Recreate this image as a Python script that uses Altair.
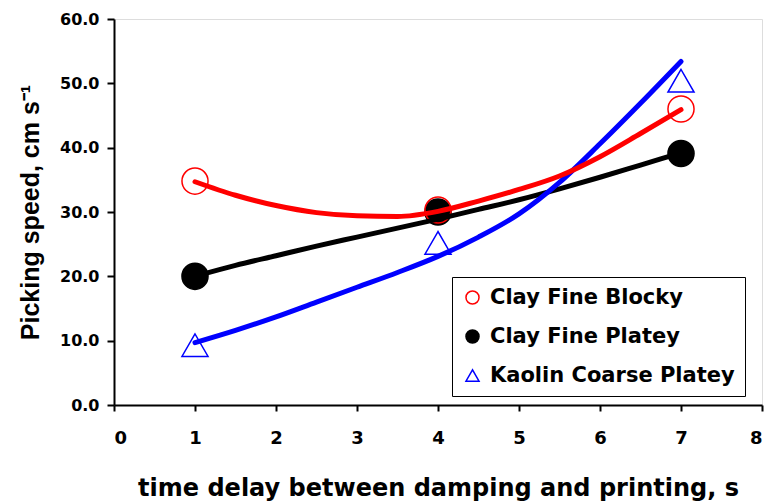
import altair as alt
import pandas as pd

# Series names (legend order)
series = ["Clay Fine Blocky", "Clay Fine Platey", "Kaolin Coarse Platey"]
colors = ["#ff0000", "#000000", "#0000ff"]
fills = ["transparent", "#000000", "transparent"]
shapes = ["circle", "circle", "triangle-up"]

# Measured picking speeds (cm/s) at each time delay (s)
delay_measured = [1, 4, 7]
blocky_measured = [34.8, 30.3, 46.0]
platey_measured = [20.0, 30.0, 39.1]
kaolin_measured = [9.3, 25.2, 50.4]

# Fitted trend curves
delay_fit = [1, 1.5, 2, 2.5, 3, 3.5, 4, 4.5, 5, 5.5, 6, 6.5, 7]
blocky_fit = [34.7, 32.6, 31.0, 29.9, 29.4, 29.3, 30.1, 31.7, 33.5, 35.6, 38.6, 42.2, 45.9]
platey_fit = [20.0, 21.7, 23.2, 24.7, 26.1, 27.5, 28.9, 30.4, 31.9, 33.6, 35.4, 37.3, 39.2]
kaolin_fit = [9.7, 11.6, 13.7, 16.0, 18.3, 20.6, 23.1, 26.1, 29.7, 34.6, 40.6, 46.9, 53.4]

# Points table: drawn in this row order (platey underneath blocky)
pts = pd.DataFrame({
    "delay": delay_measured * 3,
    "speed": platey_measured + blocky_measured + kaolin_measured,
    "series": [series[1]] * 3 + [series[0]] * 3 + [series[2]] * 3,
})

x_scale = alt.Scale(domain=[0, 8], nice=False, zero=False)
y_scale = alt.Scale(domain=[0, 60], nice=False)

x_axis = alt.Axis(
    title="time delay between damping and printing, s",
    values=list(range(0, 9)), format="d", grid=False,
    tickSize=6, tickWidth=2, tickColor="black",
    domainWidth=2, domainColor="black",
    labelFont="DejaVu Sans", labelFontSize=18, labelFontWeight="bold",
    labelColor="black", labelPadding=18,
    titleFont="DejaVu Sans", titleFontSize=24, titleFontWeight="bold",
    titleColor="black", titleY=90, titleBaseline="alphabetic",
)
y_axis = alt.Axis(
    title="Picking speed, cm s\u207b\u00b9",
    values=list(range(0, 61, 5)),
    labelExpr="datum.value % 10 == 0 ? format(datum.value, '.1f') : ''",
    grid=False, tickSize=7, tickWidth=2, tickColor="black",
    domainWidth=2, domainColor="black",
    labelFont="DejaVu Sans", labelFontSize=16, labelFontWeight="bold",
    labelColor="black", labelPadding=8,
    titleFont="Liberation Sans", titleFontSize=25, titleFontWeight="bold",
    titleColor="black", titleAngle=270, titleX=-84, titleY=193,
    titleAlign="center", titleBaseline="middle",
)

legend = alt.Legend(
    title=None, orient="none", legendX=338, legendY=258,
    padding=10, strokeColor="black", fillColor="white",
    labelFont="DejaVu Sans", labelFontSize=21, labelFontWeight="bold",
    labelColor="black", labelLimit=0, symbolSize=170, symbolStrokeWidth=1.5,
    rowPadding=17, labelOffset=7,
)

points = alt.Chart(pts).mark_point(size=680, strokeWidth=1.5, opacity=1).encode(
    x=alt.X("delay:Q", scale=x_scale, axis=x_axis),
    y=alt.Y("speed:Q", scale=y_scale, axis=y_axis),
    shape=alt.Shape("series:N", scale=alt.Scale(domain=series, range=shapes), legend=legend),
    stroke=alt.Stroke("series:N", scale=alt.Scale(domain=series, range=colors), legend=legend),
    fill=alt.Fill("series:N", scale=alt.Scale(domain=series, range=fills), legend=legend),
)


def fit_line(values, color):
    df = pd.DataFrame({"delay": delay_fit, "speed": values})
    return alt.Chart(df).mark_line(strokeWidth=5, interpolate="monotone", strokeCap="round").encode(
        x=alt.X("delay:Q", scale=x_scale),
        y=alt.Y("speed:Q", scale=y_scale),
        color=alt.value(color),
    )


chart = alt.layer(
    points,
    fit_line(platey_fit, "#000000"),
    fit_line(kaolin_fit, "#0000ff"),
    fit_line(blocky_fit, "#ff0000"),
).properties(
    width=648, height=386,
    autosize=alt.AutoSizeParams(type="none"),
    padding={"left": 114, "top": 19, "right": 8, "bottom": 98},
).configure_view(
    stroke="black", strokeWidth=1.5,
).configure(background="white")

chart.save("out.html", embed_options={"renderer": "svg", "actions": False})
